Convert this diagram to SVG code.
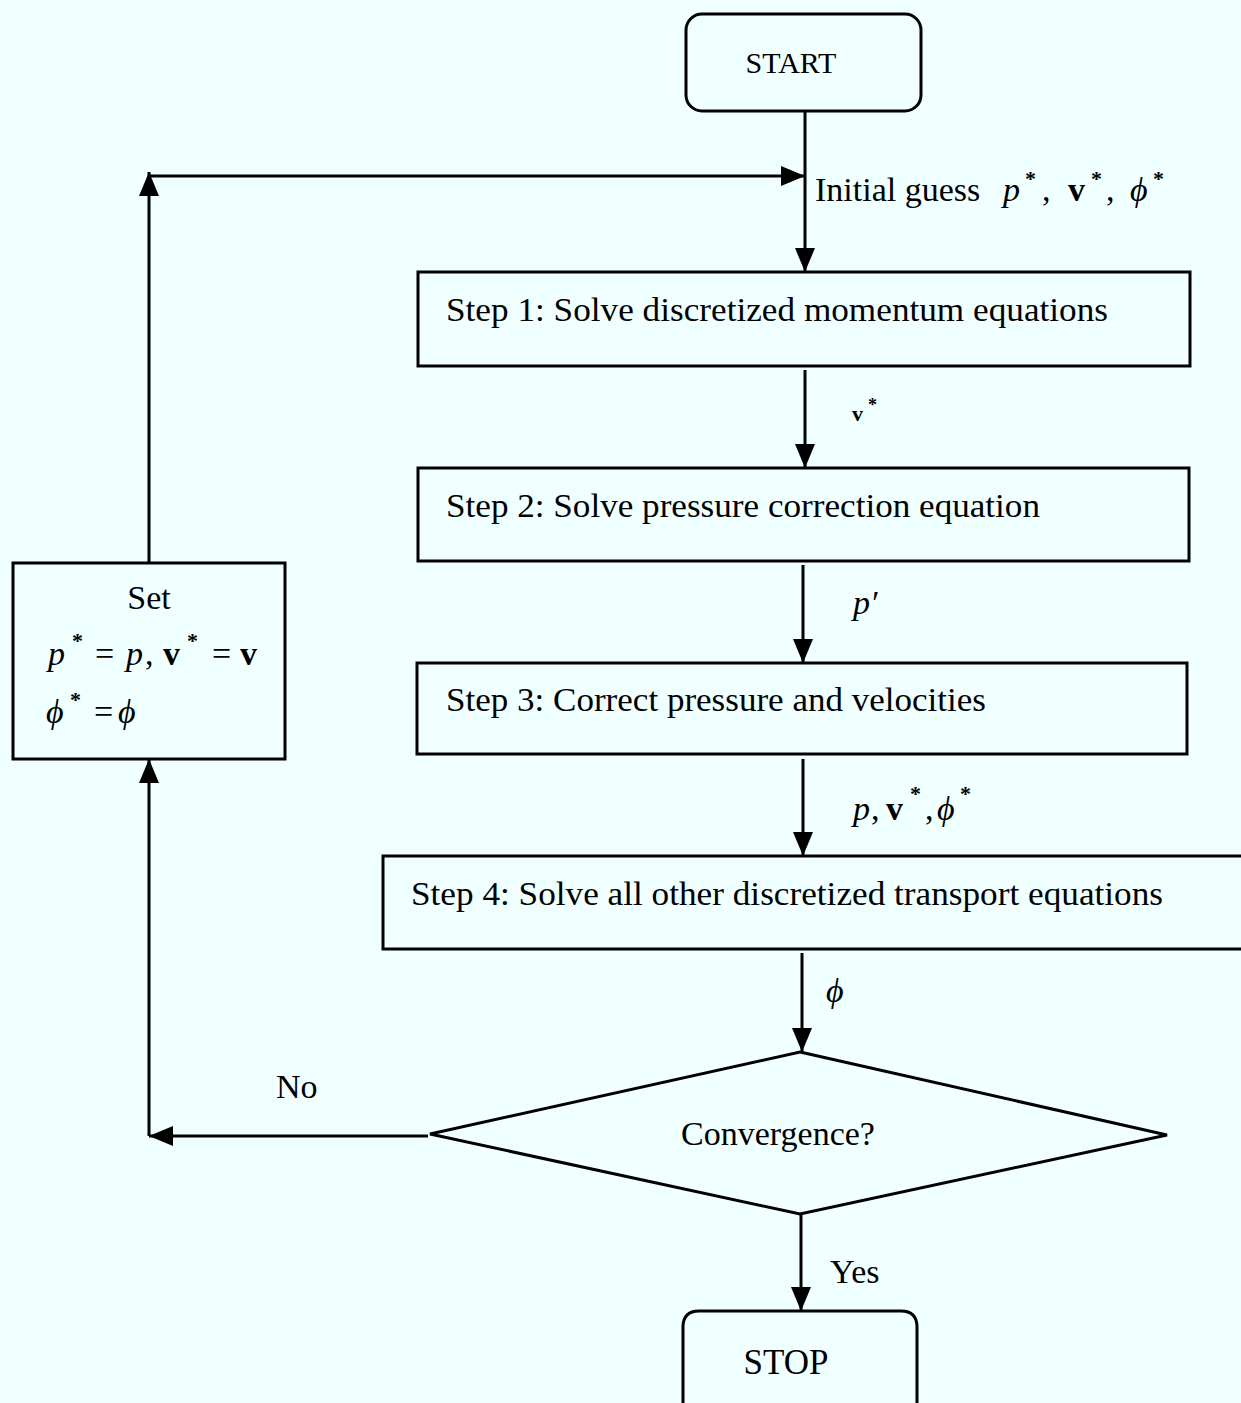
<svg xmlns="http://www.w3.org/2000/svg" width="1241" height="1403" viewBox="0 0 1241 1403">
<style>
.bg{fill:#F0FFFF}
.box{fill:none;stroke:#000;stroke-width:3}
.ln{fill:none;stroke:#000;stroke-width:3}
.t{font-family:"Liberation Serif","Times New Roman",serif;font-size:34px;fill:#000}
.it{font-style:italic}
.b{font-weight:bold}
.sup{font-family:"Liberation Serif",serif;font-size:22px;font-weight:bold;fill:#000}
</style>
<defs>
<marker id="ah" viewBox="0 0 24 20" refX="24" refY="10" markerWidth="24" markerHeight="20" markerUnits="userSpaceOnUse" orient="auto">
<path d="M0,0 L24,10 L0,20 z" fill="#000"/>
</marker>
</defs>
<rect class="bg" x="0" y="0" width="1241" height="1403"/>

<g id="connectors">
<path class="ln" d="M805,111 V272" marker-end="url(#ah)"/>
<path class="ln" d="M149,563 V172" marker-end="url(#ah)"/>
<path class="ln" d="M149,176 H805" marker-end="url(#ah)"/>
<path class="ln" d="M805,370 V468" marker-end="url(#ah)"/>
<path class="ln" d="M803,565 V663" marker-end="url(#ah)"/>
<path class="ln" d="M803,759 V856" marker-end="url(#ah)"/>
<path class="ln" d="M802,953 V1052" marker-end="url(#ah)"/>
<path class="ln" d="M428,1136 H149" marker-end="url(#ah)"/>
<path class="ln" d="M149,1136 V759" marker-end="url(#ah)"/>
<path class="ln" d="M801,1214 V1311" marker-end="url(#ah)"/>
<!-- labels -->
<text class="t" x="815" y="201">Initial guess</text>
<text class="t it" x="1003" y="201">p</text>
<text class="sup" x="1025" y="186">*</text>
<text class="t" x="1042" y="201">,</text>
<text class="t b" x="1068" y="201">v</text>
<text class="sup" x="1091" y="186">*</text>
<text class="t" x="1106" y="201">,</text>
<text class="t it" x="1130" y="201">ϕ</text>
<text class="sup" x="1153" y="186">*</text>

<text class="t b" x="852" y="421" style="font-size:22px">v</text>
<text class="sup" x="868" y="411" style="font-size:18px">*</text>

<text class="t it" x="853" y="614">p′</text>

<text class="t it" x="853" y="820">p</text>
<text class="t" x="871" y="820">,</text>
<text class="t b" x="886" y="820">v</text>
<text class="sup" x="910" y="801">*</text>
<text class="t" x="925" y="820">,</text>
<text class="t it" x="937" y="820">ϕ</text>
<text class="sup" x="960" y="801">*</text>

<text class="t it" x="826" y="1002">ϕ</text>

<text class="t" x="276" y="1098">No</text>
<text class="t" x="830" y="1283">Yes</text>
</g>

<g id="start">
<rect class="box" x="686" y="14" width="235" height="97" rx="16"/>
<text class="t" x="791" y="73" text-anchor="middle" style="font-size:30px">START</text>
</g>

<g id="step1">
<rect class="box" x="418" y="272" width="772" height="94"/>
<text class="t" x="446" y="321" textLength="662" lengthAdjust="spacingAndGlyphs">Step 1: Solve discretized momentum equations</text>
</g>

<g id="step2">
<rect class="box" x="418" y="468" width="771" height="93"/>
<text class="t" x="446" y="517" textLength="594" lengthAdjust="spacingAndGlyphs">Step 2: Solve pressure correction equation</text>
</g>

<g id="step3">
<rect class="box" x="417" y="663" width="770" height="91"/>
<text class="t" x="446" y="711" textLength="540" lengthAdjust="spacingAndGlyphs">Step 3: Correct pressure and velocities</text>
</g>

<g id="step4">
<path class="box" d="M1245,856 H383 V949 H1245"/>
<text class="t" x="411" y="905" textLength="752" lengthAdjust="spacingAndGlyphs">Step 4: Solve all other discretized transport equations</text>
</g>

<g id="convergence">
<polygon class="box" points="800,1052 1167,1135 800,1214 430,1134"/>
<text class="t" x="778" y="1145" text-anchor="middle">Convergence?</text>
</g>

<g id="set">
<rect class="box" x="13" y="563" width="272" height="196"/>
<text class="t" x="149" y="609" text-anchor="middle">Set</text>
<text class="t it" x="48" y="665">p</text>
<text class="sup" x="72" y="648">*</text>
<text class="t" x="95" y="665">=</text>
<text class="t it" x="126" y="665">p</text>
<text class="t" x="145" y="665">,</text>
<text class="t b" x="163" y="665">v</text>
<text class="sup" x="187" y="648">*</text>
<text class="t" x="212" y="665">=</text>
<text class="t b" x="240" y="665">v</text>
<text class="t it" x="46" y="723">ϕ</text>
<text class="sup" x="70" y="707">*</text>
<text class="t" x="94" y="723">=</text>
<text class="t it" x="118" y="723">ϕ</text>
</g>

<g id="stop">
<path class="box" d="M683,1410 V1327 Q683,1311 699,1311 H901 Q917,1311 917,1327 V1410"/>
<text class="t" x="786" y="1374" text-anchor="middle" style="font-size:35px">STOP</text>
</g>
</svg>
